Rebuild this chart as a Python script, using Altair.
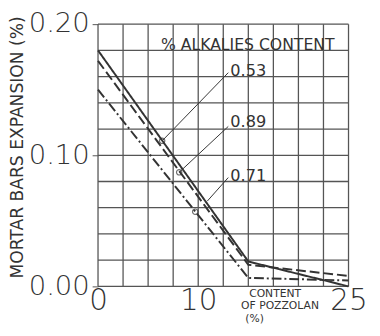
import altair as alt
import pandas as pd

# ---- data ----
x_pts = [0, 15, 25]
y_053 = [0.180, 0.019, 0.000]
y_089 = [0.172, 0.0165, 0.008]
y_071 = [0.150, 0.0065, 0.0045]
series_names = ["0.53", "0.89", "0.71"]

marker_x = [6.4, 8.1, 9.7]
marker_y = [0.111, 0.087, 0.057]

leader_x = [6.4, 8.1, 10.9]
leader_y = [0.111, 0.087, 0.065]
leader_x2 = [13.0, 13.0, 13.0]
leader_y2 = [0.163, 0.122, 0.083]

label_x = [13.2, 13.2, 13.2]
label_y = [0.164, 0.125, 0.084]

grid_x = [0, 2.5, 5, 7.5, 10, 12.5, 15, 17.5, 20, 22.5, 25]
grid_y = [0.0, 0.02, 0.04, 0.06, 0.08, 0.10, 0.12, 0.14, 0.16, 0.18, 0.20]
x_ticks = [0, 10, 25]
y_ticks = [0.0, 0.1, 0.2]

legend_title = "% ALKALIES CONTENT"
y_title = "MORTAR BARS EXPANSION (%)"
x_title_lines = ["CONTENT", "OF POZZOLAN", "(%)"]

# ---- tables ----
rows = []
for name, ys in zip(series_names, [y_053, y_089, y_071]):
    for xv, yv in zip(x_pts, ys):
        rows.append({"series": name, "x": xv, "y": yv})
lines_df = pd.DataFrame(rows)
markers_df = pd.DataFrame({"x": marker_x, "y": marker_y})
leaders_df = pd.DataFrame({"x": leader_x, "y": leader_y, "x2": leader_x2, "y2": leader_y2})
labels_df = pd.DataFrame({"x": label_x, "y": label_y, "t": series_names})
gx_df = pd.DataFrame({"x": grid_x})
gy_df = pd.DataFrame({"y": grid_y})

FONT = "DejaVu Sans"
INK = "#333333"
GRID = "#555555"

xs = alt.Scale(domain=[0, 25], nice=False, zero=False)
ys = alt.Scale(domain=[0, 0.2], nice=False, zero=False)

x_axis = alt.Axis(values=x_ticks, format="d", labelFontSize=30, labelFont=FONT,
                  labelFontWeight=300, labelColor=INK, labelPadding=0, ticks=False,
                  domain=False, grid=False, title=None, labelFlush=False,
                  labelOverlap=False)
y_axis = alt.Axis(values=y_ticks, format=".2f", labelFontSize=28, labelFont=FONT,
                  labelFontWeight=300, labelColor=INK, labelPadding=3, tickSize=6,
                  tickColor=GRID, domain=False, grid=False, title=None,
                  labelFlush=False, labelOverlap=False)

X = lambda f="x": alt.X(f"{f}:Q", scale=xs, axis=x_axis)
Y = lambda f="y": alt.Y(f"{f}:Q", scale=ys, axis=y_axis)

grid_v = alt.Chart(gx_df).mark_rule(color=GRID, strokeWidth=1.3).encode(x=X())
grid_h = alt.Chart(gy_df).mark_rule(color=GRID, strokeWidth=1.3).encode(y=Y())

lines = alt.Chart(lines_df).mark_line(color=INK, strokeWidth=2).encode(
    x=X(), y=Y(),
    strokeDash=alt.StrokeDash("series:N",
                              scale=alt.Scale(domain=series_names,
                                              range=[[1, 0], [10, 4], [10, 3, 2, 3]]),
                              legend=None),
)

leaders = alt.Chart(leaders_df).mark_rule(color=INK, strokeWidth=1).encode(
    x=X(), y=Y(), x2="x2:Q", y2="y2:Q")

markers = alt.Chart(markers_df).mark_point(shape="circle", size=30, color=INK,
                                           filled=False, strokeWidth=1.2).encode(x=X(), y=Y())

labels = alt.Chart(labels_df).mark_text(align="left", baseline="middle", font=FONT,
                                        fontSize=16.5, color=INK).encode(
    x=X(), y=Y(), text="t:N")

legend_txt = alt.Chart(pd.DataFrame({"t": [legend_title]})).mark_text(
    align="center", baseline="middle", font=FONT, fontSize=16, color=INK).encode(
    x=alt.value(153), y=alt.value(21), text="t:N")

ytitle = alt.Chart(pd.DataFrame({"t": [y_title]})).mark_text(
    align="center", baseline="middle", font=FONT, fontSize=17.5, color=INK, angle=270).encode(
    x=alt.value(-82), y=alt.value(126), text="t:N")

xt_pos = [(181, 276), (186, 288.5), (160, 301)]
xt_size = [11, 11, 11]
xtitles = [
    alt.Chart(pd.DataFrame({"t": [line]})).mark_text(
        align="center", baseline="middle", font=FONT, fontSize=fs, color=INK).encode(
        x=alt.value(px), y=alt.value(py), text="t:N")
    for line, (px, py), fs in zip(x_title_lines, xt_pos, xt_size)
]

chart = alt.layer(grid_v, grid_h, lines, leaders, markers, labels, legend_txt, ytitle,
                  *xtitles).properties(
    width=256, height=268,
    autosize=alt.AutoSizeParams(type="none"),
    padding={"left": 92, "top": 13, "right": 24, "bottom": 39},
    background="white",
).configure_view(stroke=None)

chart.save("out.html", embed_options={"renderer": "svg", "actions": False})
